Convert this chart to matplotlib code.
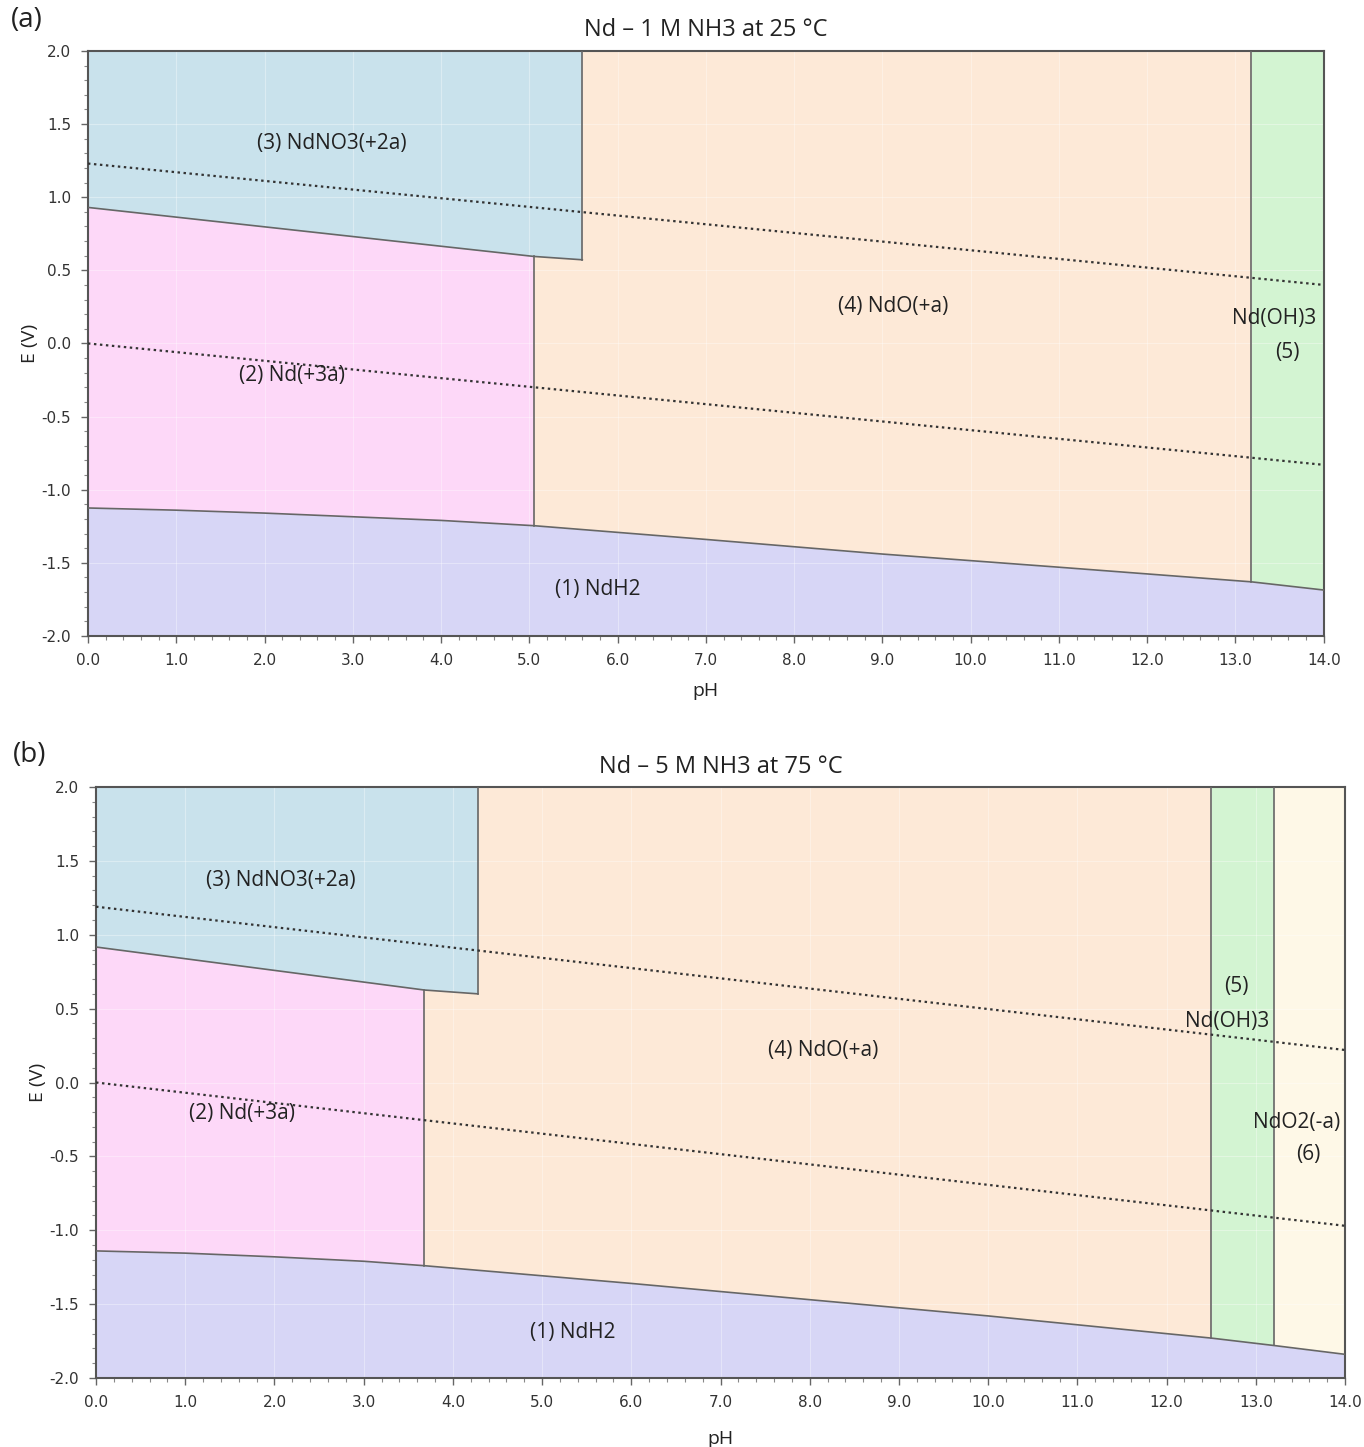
import matplotlib
matplotlib.use("Agg")
import matplotlib.pyplot as plt
from matplotlib.ticker import MultipleLocator, FormatStrFormatter
import numpy as np

# ---------------- Data: panel (a) Nd - 1 M NH3 at 25 C ----------------
a_title = "Nd – 1 M NH3 at 25 °C"
# NdH2 upper boundary (pH, E)
a_ndh2_ph = [0.0, 1.0, 2.0, 3.0, 4.0, 5.05, 7.0, 9.0, 11.0, 13.18, 14.0]
a_ndh2_e = [-1.125, -1.14, -1.16, -1.185, -1.21, -1.246, -1.34, -1.44, -1.53, -1.63, -1.686]
# Nd(+3a) / NdNO3(+2a) boundary
a_no3_ph = [0.0, 5.05, 5.6]
a_no3_e = [0.93, 0.595, 0.572]
a_nd3_edge = 5.05      # Nd(+3a) | NdO(+a)
a_no3_edge = 5.6       # NdNO3(+2a) | NdO(+a)
a_oh3_edge = 13.18     # NdO(+a) | Nd(OH)3
a_ndo2_edge = None
a_water_ph = [0.0, 14.0]
a_water_o2 = [1.23, 0.40]
a_water_h2 = [0.0, -0.83]
a_labels = [("(3) NdNO3(+2a)", 2.76, 1.37), ("(2) Nd(+3a)", 2.31, -0.22),
            ("(4) NdO(+a)", 9.12, 0.25), ("Nd(OH)3", 13.44, 0.17),
            ("(5)", 13.59, -0.06), ("(1) NdH2", 5.78, -1.68)]

# ---------------- Data: panel (b) Nd - 5 M NH3 at 75 C ----------------
b_title = "Nd – 5 M NH3 at 75 °C"
b_ndh2_ph = [0.0, 1.0, 2.0, 3.0, 3.68, 6.0, 8.0, 10.0, 12.5, 13.2, 14.0]
b_ndh2_e = [-1.14, -1.155, -1.18, -1.21, -1.24, -1.36, -1.47, -1.58, -1.73, -1.78, -1.84]
b_no3_ph = [0.0, 3.68, 4.28]
b_no3_e = [0.917, 0.626, 0.60]
b_nd3_edge = 3.68
b_no3_edge = 4.28
b_oh3_edge = 12.5
b_ndo2_edge = 13.2
b_water_ph = [0.0, 14.0]
b_water_o2 = [1.19, 0.22]
b_water_h2 = [0.0, -0.97]
b_labels = [("(3) NdNO3(+2a)", 2.07, 1.37), ("(2) Nd(+3a)", 1.64, -0.21),
            ("(4) NdO(+a)", 8.15, 0.215), ("(5)", 12.78, 0.65),
            ("Nd(OH)3", 12.68, 0.41), ("NdO2(-a)", 13.46, -0.27),
            ("(6)", 13.59, -0.49), ("(1) NdH2", 5.34, -1.69)]

C_BLUE = "#c9e2ec"
C_PINK = "#fdd8f8"
C_ORANGE = "#fde9d7"
C_GREEN = "#d3f4d2"
C_PURPLE = "#d7d6f6"
C_YELLOW = "#fef8e7"
EDGE = "#666666"

fig = plt.figure(figsize=(13.64, 14.47), dpi=100)
ax_a = fig.add_axes([0.0645, 0.5605, 0.906, 0.4043])
ax_b = fig.add_axes([0.0704, 0.0477, 0.9157, 0.4084])


def draw(ax, ndh2_ph, ndh2_e, no3_ph, no3_e, nd3_edge, no3_edge, oh3_edge,
         ndo2_edge, water_ph, w_o2, w_h2, labels, title, xpad, tpad):
    ph = np.array(ndh2_ph)
    e = np.array(ndh2_e)
    top = 2.0
    bot = -2.0
    # NdH2
    ax.fill_between(ph, bot, e, color=C_PURPLE, lw=0, zorder=1)
    # Nd(+3a)
    m = ph <= nd3_edge + 1e-9
    bx = np.array(no3_ph)
    be = np.array(no3_e)
    upper_nd3 = np.interp(ph[m], bx, be)
    ax.fill_between(ph[m], e[m], upper_nd3, color=C_PINK, lw=0, zorder=1)
    # NdNO3(+2a)
    ax.fill_between(bx, be, top, color=C_BLUE, lw=0, zorder=1)
    # NdO(+a)
    xs = np.concatenate([[nd3_edge], ph[(ph > nd3_edge) & (ph < oh3_edge)], [oh3_edge]])
    lower = np.interp(xs, ph, e)
    poly_x = list(xs) + [oh3_edge, no3_edge, no3_edge, nd3_edge]
    poly_y = list(lower) + [top, top, np.interp(no3_edge, bx, be), np.interp(nd3_edge, bx, be)]
    ax.fill(poly_x, poly_y, color=C_ORANGE, lw=0, zorder=1)
    # Nd(OH)3
    end5 = ndo2_edge if ndo2_edge is not None else 14.0
    xs5 = np.concatenate([[oh3_edge], ph[(ph > oh3_edge) & (ph < end5)], [end5]])
    ax.fill_between(xs5, np.interp(xs5, ph, e), top, color=C_GREEN, lw=0, zorder=1)
    if ndo2_edge is not None:
        xs6 = np.concatenate([[ndo2_edge], ph[ph > ndo2_edge]])
        ax.fill_between(xs6, np.interp(xs6, ph, e), top, color=C_YELLOW, lw=0, zorder=1)

    # grid
    ax.grid(True, which="major", color="white", lw=0.8, alpha=0.35, zorder=1.5)

    # boundaries
    ax.plot(ph, e, color=EDGE, lw=1.2, zorder=3)
    ax.plot(bx, be, color=EDGE, lw=1.2, zorder=3)
    ax.plot([nd3_edge, nd3_edge], [np.interp(nd3_edge, ph, e), np.interp(nd3_edge, bx, be)],
            color=EDGE, lw=1.2, zorder=3)
    ax.plot([no3_edge, no3_edge], [np.interp(no3_edge, bx, be), top], color=EDGE, lw=1.2, zorder=3)
    ax.plot([oh3_edge, oh3_edge], [np.interp(oh3_edge, ph, e), top], color=EDGE, lw=1.2, zorder=3)
    if ndo2_edge is not None:
        ax.plot([ndo2_edge, ndo2_edge], [np.interp(ndo2_edge, ph, e), top], color=EDGE, lw=1.2, zorder=3)

    # water lines
    ax.plot(water_ph, w_o2, color="#333333", lw=1.6, ls=(0, (1.1, 1.6)), zorder=4)
    ax.plot(water_ph, w_h2, color="#333333", lw=1.6, ls=(0, (1.1, 1.6)), zorder=4)

    for txt, x, y in labels:
        ax.text(x, y, txt, ha="center", va="center", fontsize=15, color="#222222",
                family="Open Sans", zorder=5)

    ax.set_xlim(0, 14)
    ax.set_ylim(-2, 2)
    ax.xaxis.set_major_locator(MultipleLocator(1.0))
    ax.xaxis.set_minor_locator(MultipleLocator(0.2))
    ax.yaxis.set_major_locator(MultipleLocator(0.5))
    ax.yaxis.set_minor_locator(MultipleLocator(0.1))
    ax.xaxis.set_major_formatter(FormatStrFormatter("%.1f"))
    ax.yaxis.set_major_formatter(FormatStrFormatter("%.1f"))
    ax.tick_params(which="major", length=5, width=1, color="#666666", labelsize=11,
                   labelcolor="#333333", pad=7)
    ax.tick_params(which="minor", length=3, width=0.8, color="#888888")
    for sp in ax.spines.values():
        sp.set_color("#555555")
        sp.set_linewidth(1.5)
    ax.set_xlabel("pH", fontsize=14, color="#222222", family="Open Sans", labelpad=xpad)
    ax.set_ylabel("E (V)", fontsize=14, color="#222222", family="Open Sans", labelpad=2)
    ax.set_title(title, fontsize=17, color="#222222", family="Open Sans", pad=tpad)


draw(ax_a, a_ndh2_ph, a_ndh2_e, a_no3_ph, a_no3_e, a_nd3_edge, a_no3_edge, a_oh3_edge,
     a_ndo2_edge, a_water_ph, a_water_o2, a_water_h2, a_labels, a_title, 10, 11)
draw(ax_b, b_ndh2_ph, b_ndh2_e, b_no3_ph, b_no3_e, b_nd3_edge, b_no3_edge, b_oh3_edge,
     b_ndo2_edge, b_water_ph, b_water_o2, b_water_h2, b_labels, b_title, 15, 10)

fig.text(27 / 1364, 1 - 20 / 1447, "(a)", fontsize=20, ha="center", va="center",
         family="Open Sans", color="#222222")
fig.text(30 / 1364, 1 - 755 / 1447, "(b)", fontsize=20, ha="center", va="center",
         family="Open Sans", color="#222222")

fig.savefig("out.png", dpi=100)
